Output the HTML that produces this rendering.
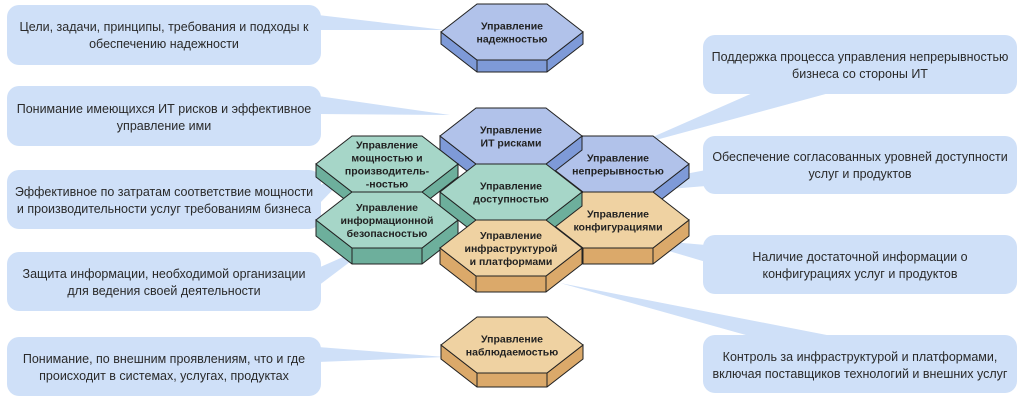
<!DOCTYPE html>
<html><head><meta charset="utf-8"><style>
body{margin:0;background:#fff;width:1024px;height:400px;overflow:hidden;font-family:"Liberation Sans","DejaVu Sans",sans-serif}
svg{position:absolute;left:0;top:0}
</style></head><body>
<svg width="1024" height="400" viewBox="0 0 1024 400" xmlns="http://www.w3.org/2000/svg" font-family="Liberation Sans, DejaVu Sans, sans-serif">
<g fill="#cfe0f8">
<rect x="7" y="5" width="314" height="60" rx="12"/>
<rect x="7" y="86" width="314" height="60" rx="12"/>
<rect x="7" y="170" width="314" height="59" rx="12"/>
<rect x="7" y="252" width="314" height="59" rx="12"/>
<rect x="7" y="337" width="314" height="59" rx="12"/>
<rect x="703" y="35" width="314" height="59" rx="12"/>
<rect x="703" y="136" width="314" height="58" rx="12"/>
<rect x="703" y="235" width="314" height="59" rx="12"/>
<rect x="703" y="335" width="314" height="58" rx="12"/>
<polygon points="318,15 318,30 445,30"/>
<polygon points="318,96 318,114 450,115"/>
<polygon points="318,186 318,205 350,172"/>
<polygon points="318,268 318,286 375,243"/>
<polygon points="318,347 318,362 445,357"/>
<polygon points="755,92 833,92 630,147"/>
<polygon points="706,170 706,186 560,198"/>
<polygon points="706,245 706,262 625,238"/>
<polygon points="753,337 837,337 560,283"/>
</g>
<g id="hexes" stroke="#222" stroke-width="1">
</g>
<g font-size="12.5" fill="#2a2a2a" text-anchor="middle">
<text x="164" y="31">Цели, задачи, принципы, требования и подходы к</text>
<text x="164" y="48">обеспечению надежности</text>
<text x="164" y="113">Понимание имеющихся ИТ рисков и эффективное</text>
<text x="164" y="130">управление ими</text>
<text x="164" y="196">Эффективное по затратам соответствие мощности</text>
<text x="164" y="213">и производительности услуг требованиям бизнеса</text>
<text x="164" y="278">Защита информации, необходимой организации</text>
<text x="164" y="295">для ведения своей деятельности</text>
<text x="164" y="363">Понимание, по внешним проявлениям, что и где</text>
<text x="164" y="380">происходит в системах, услугах, продуктах</text>
<text x="860" y="61">Поддержка процесса управления непрерывностью</text>
<text x="860" y="78">бизнеса со стороны ИТ</text>
<text x="860" y="161">Обеспечение согласованных уровней доступности</text>
<text x="860" y="178">услуг и продуктов</text>
<text x="860" y="261">Наличие достаточной информации о</text>
<text x="860" y="278">конфигурациях услуг и продуктов</text>
<text x="860" y="361">Контроль за инфраструктурой и платформами,</text>
<text x="860" y="378">включая поставщиков технологий и внешних услуг</text>
</g>
<script>
var g=document.getElementById('hexes');
function hex(cx,cy,top,side,d,lines){
 var hw=71,hh=28,te=35,ns='http://www.w3.org/2000/svg';
 function P(pts,f){var p=document.createElementNS(ns,'polygon');p.setAttribute('points',pts.map(function(a){return a.join(',')}).join(' '));p.setAttribute('fill',f);g.appendChild(p);}
 P([[cx-hw,cy],[cx-te,cy+hh],[cx+te,cy+hh],[cx+hw,cy],[cx+hw,cy+d],[cx+te,cy+hh+d],[cx-te,cy+hh+d],[cx-hw,cy+d]],side);
 P([[cx-te,cy-hh],[cx+te,cy-hh],[cx+hw,cy],[cx+te,cy+hh],[cx-te,cy+hh],[cx-hw,cy]],top);
 var l=document.createElementNS(ns,'path');l.setAttribute('d','M'+(cx-te)+','+(cy+hh)+'v'+d+'M'+(cx+te)+','+(cy+hh)+'v'+d);l.setAttribute('fill','none');g.appendChild(l);
 var n=lines.length,y0=cy-(n-1)*6.5+4;
 lines.forEach(function(s,i){var t=document.createElementNS(ns,'text');t.setAttribute('x',cx);t.setAttribute('y',y0+i*13);t.setAttribute('text-anchor','middle');t.setAttribute('font-size','10.5');t.setAttribute('font-weight','bold');t.setAttribute('fill','#222');t.setAttribute('stroke','none');t.textContent=s;g.appendChild(t);});
}
var B=['#b1c2ea','#7e9ad8'],G=['#a6d6c8','#6daf9c'],O=['#efd2a2','#dba96a'];
hex(512,32,B[0],B[1],12,['Управление','надежностью']);
hex(618,164,B[0],B[1],14,['Управление','непрерывностью']);
hex(511,136,B[0],B[1],14,['Управление','ИТ рисками']);
hex(387,164,G[0],G[1],13,['Управление','мощностью  и','производитель-','-ностью']);
hex(387,220,G[0],G[1],16,['Управление','информационной','безопасностью']);
hex(618,220,O[0],O[1],16,['Управление','конфигурациями']);
hex(511,192,G[0],G[1],14,['Управление','доступностью']);
hex(511,248,O[0],O[1],16,['Управление','инфраструктурой','и платформами']);
hex(512,345,O[0],O[1],14,['Управление','наблюдаемостью']);
</script>
</svg>
</body></html>
